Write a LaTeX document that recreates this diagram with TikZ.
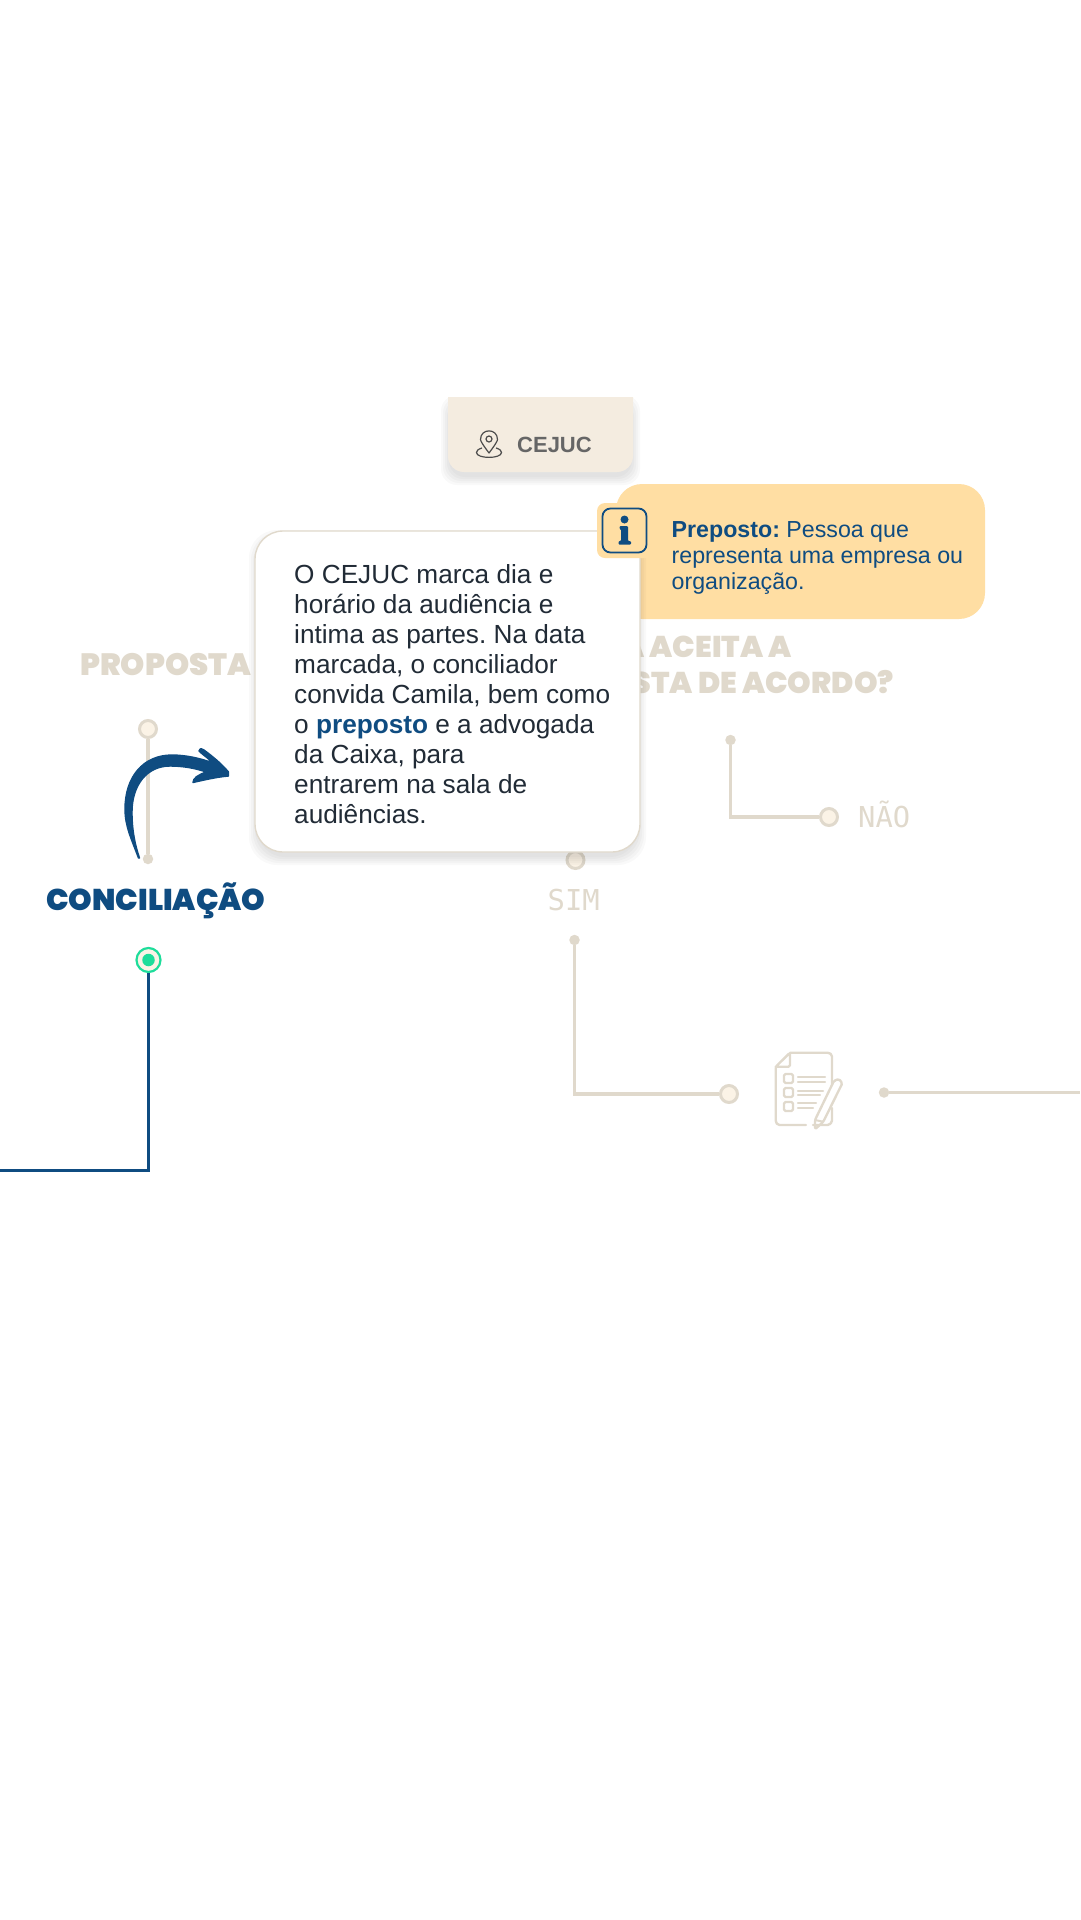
\documentclass[tikz,border=0pt]{standalone}
\usepackage{fontspec}
\setmainfont{Liberation Sans}
\newfontfamily\headfont{Poppins}[UprightFont=* Black]
\newfontfamily\monolabel{DejaVu Sans Mono}
\definecolor{caixablue}{HTML}{0F4C81}
\definecolor{faintline}{HTML}{E0D9CC}
\definecolor{ringfill}{HTML}{FBF3E6}
\definecolor{cardbeige}{HTML}{F4ECE0}
\definecolor{noteyellow}{HTML}{FFDEA3}
\definecolor{inkdark}{HTML}{212B36}
\definecolor{ringgreen}{HTML}{1EDD9B}
\newcommand{\softshadow}[6]{%
  \foreach \s in {0,2,4,6,8}
    \fill[#6,opacity=0.022,rounded corners=#5] ({#1-\s},{#2+3-\s}) rectangle ({#3+\s},{#4+3+\s});
}
\tikzset{
  faint/.style={draw=faintline,line width=3.4pt},
  ringdot/.style={circle,draw=faintline,fill=ringfill,line width=3pt,minimum size=17pt,inner sep=0pt},
  enddot/.style={circle,fill=faintline,minimum size=10.5pt,inner sep=0pt},
  headlabel/.style={font=\headfont\fontsize{30}{36}\selectfont,inner sep=0pt,text=faintline},
  monotext/.style={font=\monolabel\fontsize{28.8}{34}\selectfont,inner sep=0pt,text=faintline},
  iconline/.style={draw=faintline,line width=2.4pt,line cap=round,line join=round,rounded corners=1.5pt},
}

\begin{document}
\begin{tikzpicture}[x=1pt,y=-1pt]
\useasboundingbox (0,0) rectangle (1080,1920);

%% ---------------- faded labels behind the cards ----------------
\node[headlabel,font=\headfont\fontsize{30.8}{36}\selectfont,anchor=base west] (propostalabel) at (80,675) {PROPOSTA};
\node[headlabel,anchor=base east] (aceitalabel) at (792,657) {A ACEITA A};
\node[headlabel,anchor=base east] (acordolabel) at (894,693) {STA DE ACORDO?};
\node[monotext,anchor=base west] (naolabel) at (858,827) {NÃO};
\node[monotext,anchor=base west] (simlabel) at (547.5,910) {SIM};

%% ---------------- faded stages ----------------
\node[ringdot] (propostaring) at (148,729) {};
\node[enddot] (propostaend) at (148,859) {};
\draw[faint] (propostaend) -- (propostaring);
\node[enddot] (naoend) at (730.5,740) {};
\node[ringdot] (naoring) at (829,817) {};
\draw[faint] (naoend) |- (naoring);
\node[ringdot] (simring) at (575.5,860) {};
\node[enddot] (simend) at (574.5,940) {};
\node[ringdot] (termring) at (729,1094) {};
\draw[faint] (simend) |- (termring);
\node[enddot] (termend) at (884,1092.5) {};
\coordinate (termfree) at (1080,1092.5);
\draw[faint] (termend) -- (termfree);

%% ---------------- document icon ----------------
\draw[iconline] (790,1052.7) -- (829,1052.7) -- (832,1055) -- (832,1084);
\draw[iconline] (832,1108) -- (832,1122) -- (829,1125) -- (813,1125);
\draw[iconline] (806,1125) -- (778,1125) -- (775.7,1122) -- (775.7,1066.7) -- (790,1052.7) -- (790,1066.7) -- (775.7,1066.7);
\foreach \y in {1074,1088,1102}
  \draw[iconline] (784,\y) rectangle (793,\y+9);
\foreach \y/\xend in {1077.3/825,1081.7/825,1090.7/823,1095/820,1103.3/816,1108.3/813}
  \draw[faintline,line width=2.2pt,line cap=round] (798,\y) -- (\xend,\y);
\draw[iconline] (815,1120) -- (834,1080.7) -- (839,1079) -- (842.3,1083.3) -- (823.3,1121.7) -- (815,1129.3) -- cycle;
\draw[faintline,line width=2pt] (815,1120) -- (823.3,1121.7);

%% ---------------- current stage ----------------
\node[font=\headfont\fontsize{30}{36}\selectfont,text=caixablue,inner sep=0pt,anchor=base west] (conciliacaolabel) at (46,910) {CONCILIAÇÃO};
\node[circle,draw=ringgreen,fill=ringfill,line width=2.2pt,minimum size=24pt,inner sep=0pt] (greenring) at (148.5,960) {};
\node[circle,fill=ringgreen,minimum size=12.5pt,inner sep=0pt] (greendot) at (148.5,960) {};
\coordinate (bluefree) at (0,1170.5);
\draw[caixablue,line width=3pt] (greenring) |- (bluefree);

%% ---------------- brush arrow ----------------
\draw[caixablue,fill=caixablue,line width=1.4pt,line join=round] (138.5,858)
  .. controls (131,838) and (125,826) .. (125,809)
  .. controls (125,777) and (143,755) .. (172,755)
  .. controls (185,755) and (200,758) .. (213,763)
  .. controls (208,758) and (203,755) .. (199,751)
  .. controls (200,748) and (202,748) .. (204,750)
  .. controls (212,756) and (221,763) .. (228.5,772)
  -- (228.5,776)
  .. controls (217,777) and (204,780) .. (193,782.5)
  .. controls (193,778) and (198,775) .. (206,772)
  .. controls (195,768) and (182,766) .. (170,766)
  .. controls (147,766) and (132,785) .. (132,812)
  .. controls (132,830) and (135,845) .. (139.5,858)
  -- cycle;

%% ---------------- CEJUC card ----------------
\begin{scope}
  \clip (430,397) rectangle (650,500);
  \softshadow{449}{400}{632}{474}{16}{black}
\end{scope}
\fill[cardbeige,rounded corners=16] (448,397) -- (448,472) -- (633,472) -- (633,397);
\node[font=\bfseries\fontsize{22}{26}\selectfont,text=black!60,inner sep=0pt,anchor=base west] (cejuclabel) at (517,452) {CEJUC};
\draw[black!70,line width=1.2pt,line join=round]
  (489,453) .. controls (483,445) and (480.5,441) .. (480.5,439.5)
  .. controls (480.5,428) and (497.5,428) .. (497.5,439.5)
  .. controls (497.5,441) and (495,445) .. (489,453) -- cycle
  (489,439) circle (3);
\draw[black!70,line width=1.2pt] (482,448) .. controls (478,449) and (476.5,451) .. (476.5,452.5)
  .. controls (476.5,459) and (501.5,459) .. (501.5,452.5)
  .. controls (501.5,451) and (500,449) .. (496,448);

%% ---------------- yellow note ----------------
\node[fill=noteyellow,rounded corners=26,minimum width=369pt,minimum height=135pt,inner sep=0pt] (prepostobox) at (800.5,551.5) {};
\node[font=\frenchspacing\fontsize{23.2}{26}\selectfont,text=caixablue,align=left,inner sep=0pt,anchor=north west] (prepostotext) at (671.5,521)
  {\textbf{Preposto:} Pessoa que\\representa uma empresa ou\\organização.};

%% ---------------- white note ----------------
\softshadow{257}{535}{638}{854}{28}{black}
\node[draw=faintline,fill=white,line width=1.4pt,rounded corners=28,minimum width=385pt,minimum height=321pt,inner sep=0pt] (notecard) at (447.5,691.5) {};
\node[font=\frenchspacing\fontsize{26.2}{30}\selectfont,text=inkdark,align=left,inner sep=0pt,anchor=north west] (notetext) at (294,564)
  {O CEJUC marca dia e\\horário da audiência e\\intima as partes. Na data\\marcada, o conciliador\\convida Camila, bem como\\o {\bfseries\color{caixablue}preposto} e a advogada\\da Caixa, para\\entrarem na sala de\\audiências.};

%% ---------------- info badge ----------------
\node[fill=noteyellow,rounded corners=8,minimum width=56pt,minimum height=55pt,inner sep=0pt] (infobadge) at (625,530.5) {};
\node[draw=caixablue,line width=1.8pt,rounded corners=8,minimum width=44pt,minimum height=44pt,inner sep=0pt] (infoframe) at (624.5,530.5) {};
\fill[caixablue] (624.5,519.5) circle (4);
\fill[caixablue,rounded corners=1] (619.5,526) -- (628,526) -- (628,541) -- (631,541) -- (631,544.5) -- (618.5,544.5) -- (618.5,541) -- (621,541) -- (621,529) -- (619.5,529) -- cycle;

\end{tikzpicture}
\end{document}
